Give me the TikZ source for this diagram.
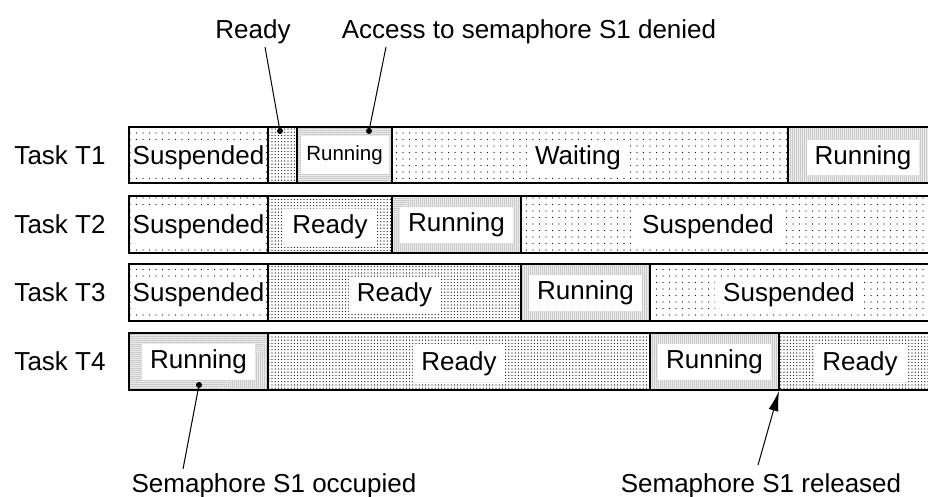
\documentclass[tikz,border=0pt]{standalone}
\usepackage{fontspec}
\setmainfont{Liberation Sans}
\usetikzlibrary{patterns,arrows.meta}
\pgfdeclarepatternformonly{sparsedots}{\pgfqpoint{-1pt}{-1pt}}{\pgfqpoint{1pt}{1pt}}{\pgfqpoint{6.5pt}{6.5pt}}{\pgfpathcircle{\pgfqpoint{0pt}{0pt}}{0.6pt}\pgfusepath{fill}}
\pgfdeclarepatternformonly{meddots}{\pgfqpoint{-1pt}{-1pt}}{\pgfqpoint{1pt}{1pt}}{\pgfqpoint{3.2pt}{3.2pt}}{\pgfpathcircle{\pgfqpoint{0pt}{0pt}}{0.62pt}\pgfusepath{fill}}
\pgfdeclarepatternformonly{densedots}{\pgfqpoint{-1pt}{-1pt}}{\pgfqpoint{1pt}{1pt}}{\pgfqpoint{2pt}{2pt}}{\pgfpathcircle{\pgfqpoint{0pt}{0pt}}{0.5pt}\pgfusepath{fill}}
\tikzset{
  susp/.style={pattern=sparsedots},
  rdy/.style={pattern=meddots},
  run/.style={pattern=densedots},
  border/.style={draw=black,line width=2pt},
  big/.style={font=\fontsize{26}{30}\selectfont, text height=18.7pt, text depth=5pt},
  lbl/.style={big, fill=white, inner xsep=8pt, inner ysep=6pt},
  tightlbl/.style={lbl, inner xsep=1.5pt},
  smalllbl/.style={font=\fontsize{20.5}{24}\selectfont, fill=white, minimum width=88pt, minimum height=38pt, inner sep=0pt},
  plain/.style={big, inner sep=0pt},
  dotn/.style={circle, fill=black, inner sep=0pt, minimum size=6pt},
  conn/.style={draw=black, line width=1pt},
}
\begin{document}
\begin{tikzpicture}[x=1pt,y=-1pt]
\clip (0,0) rectangle (928,497);
\fill[white] (0,0) rectangle (928,497);
% Task T1
\path[susp] (129,127) rectangle (268,183);
\path[rdy]  (268,127) rectangle (297,183);
\path[run]  (297,127) rectangle (392,183);
\path[susp] (392,127) rectangle (788,183);
\path[run]  (788,127) rectangle (940,183);
% Task T2
\path[susp] (129,196) rectangle (268,253);
\path[rdy]  (268,196) rectangle (392,253);
\path[run]  (392,196) rectangle (521,253);
\path[susp] (521,196) rectangle (940,253);
% Task T3
\path[susp] (129,264) rectangle (268,321);
\path[rdy]  (268,264) rectangle (521,321);
\path[run]  (521,264) rectangle (650,321);
\path[susp] (650,264) rectangle (940,321);
% Task T4
\path[run]  (129,333) rectangle (268,390);
\path[rdy]  (268,333) rectangle (650,390);
\path[run]  (650,333) rectangle (779,390);
\path[rdy]  (779,333) rectangle (940,390);

% state labels
\node[tightlbl] (s11) at (198.5,157.5) {Suspended};
\node[smalllbl] (s12) at (344.5,155) {Running};
\node[lbl]      (s13) at (578,157.5) {Waiting};
\node[lbl]      (s14) at (863,157.5) {Running};
\node[tightlbl] (s21) at (198.5,227) {Suspended};
\node[lbl]      (s22) at (330,227) {Ready};
\node[lbl]      (s23) at (456.5,225) {Running};
\node[lbl]      (s24) at (708,227) {Suspended};
\node[tightlbl] (s31) at (198.5,295) {Suspended};
\node[lbl]      (s32) at (394.5,295) {Ready};
\node[lbl]      (s33) at (585.5,293) {Running};
\node[lbl]      (s34) at (789,295) {Suspended};
\node[lbl]      (s41) at (198.5,362) {Running};
\node[lbl]      (s42) at (459,364) {Ready};
\node[lbl]      (s43) at (714.5,362) {Running};
\node[lbl]      (s44) at (860,364) {Ready};

% borders
\draw[border] (129,127) rectangle (945,183);
\draw[border] (268,127) -- (268,183) (297,127) -- (297,183) (392,127) -- (392,183) (788,127) -- (788,183);
\draw[border] (129,196) rectangle (945,253);
\draw[border] (268,196) -- (268,253) (392,196) -- (392,253) (521,196) -- (521,253);
\draw[border] (129,264) rectangle (945,321);
\draw[border] (268,264) -- (268,321) (521,264) -- (521,321) (650,264) -- (650,321);
\draw[border] (129,333) rectangle (945,390);
\draw[border] (268,333) -- (268,390) (650,333) -- (650,390) (779,333) -- (779,390);

% task names
\node[plain] (t1) at (60,157.5) {Task T1};
\node[plain] (t2) at (60,227) {Task T2};
\node[plain] (t3) at (60,295) {Task T3};
\node[plain] (t4) at (60,364) {Task T4};

% annotations
\node[plain] (aready) at (253,31.5) {Ready};
\node[plain] (adenied) at (529,31.5) {Access to semaphore S1 denied};
\node[plain] (aocc) at (274,486) {Semaphore S1 occupied};
\node[plain] (arel) at (761,486) {Semaphore S1 released};

\node[dotn] (dA) at (280,131) {};
\node[dotn] (dB) at (369,131) {};
\node[dotn] (dC) at (199,385) {};
\coordinate (cA) at (265,47);
\coordinate (cB) at (386,47);
\coordinate (cC) at (183,469);
\coordinate (cD) at (758,465);
\coordinate (tipD) at (779,391);

\draw[conn] (cA) -- (dA.center);
\draw[conn] (cB) -- (dB.center);
\draw[conn] (cC) -- (dC.center);
\draw[conn, -{Latex[length=20pt,width=10pt]}] (cD) -- (tipD);
\end{tikzpicture}
\end{document}
